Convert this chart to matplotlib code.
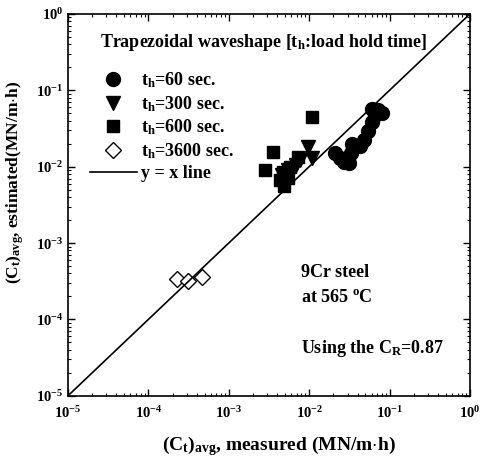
import matplotlib
matplotlib.use("Agg")
import matplotlib.pyplot as plt
import numpy as np
from matplotlib.ticker import LogLocator, FuncFormatter

plt.rcParams['font.family'] = ['Liberation Serif', 'DejaVu Serif']
plt.rcParams['font.weight'] = 'bold'
plt.rcParams['mathtext.fontset'] = 'custom'
plt.rcParams['mathtext.rm'] = 'Liberation Serif:bold'
plt.rcParams['mathtext.it'] = 'Liberation Serif:bold'
plt.rcParams['mathtext.bf'] = 'Liberation Serif:bold'

# data: (measured, estimated)
x60 = [0.0209, 0.0241, 0.0271, 0.0313, 0.0331, 0.0340, 0.0429, 0.0481, 0.0538, 0.0604, 0.0604, 0.0718, 0.0804, 0.0658]
y60 = [0.0152, 0.0130, 0.0116, 0.0112, 0.0152, 0.0199, 0.0187, 0.0224, 0.0294, 0.0386, 0.0571, 0.0553, 0.0506, 0.0477]
x300 = [0.00966, 0.00769, 0.0108, 0.00686, 0.00544, 0.00459]
y300 = [0.0182, 0.0123, 0.0130, 0.0106, 0.0091, 0.0078]
x600 = [0.00282, 0.00355, 0.00472, 0.00544, 0.00434, 0.00726, 0.00577, 0.0108, 0.00486]
y600 = [0.0091, 0.0156, 0.00855, 0.00713, 0.00672, 0.0134, 0.00994, 0.0449, 0.0056]
x3600 = [0.000227, 0.000311, 0.000464]
y3600 = [0.000340, 0.000320, 0.000361]
x_ticks = [1e-5, 1e-4, 1e-3, 1e-2, 1e-1, 1e0]

fig = plt.figure(figsize=(4.85, 4.63), dpi=100)
ax = fig.add_axes([0.140, 0.145, 0.829, 0.825])

ax.set_xscale('log')
ax.set_yscale('log')
ax.set_xlim(1e-5, 1)
ax.set_ylim(1e-5, 1)

line_x = np.array([1e-5, 1])
ax.plot(x60, y60, 'o', color='black', ms=10, label=r't$_{\rm h}$=60 sec.')
ax.plot(x300, y300, 'v', color='black', ms=10, label=r't$_{\rm h}$=300 sec.')
ax.plot(x600, y600, 's', color='black', ms=8.5, label=r't$_{\rm h}$=600 sec.')
ax.plot(x3600, y3600, 'D', mfc='white', mec='black', mew=1.0, ms=8, label=r't$_{\rm h}$=3600 sec.')
ax.plot(line_x, line_x, '-', color='black', lw=1.2, label='y = x line')

ax.text(0.08, 0.926, r'Trapezoidal waveshape [t$_{\rm h}$:load hold time]', transform=ax.transAxes,
        fontsize=13, fontweight='bold', va='center', ha='left')

leg = ax.legend(loc='upper left', bbox_to_anchor=(0.055, 0.852), frameon=False,
                fontsize=13, labelspacing=0.22,
                handlelength=2.6, handletextpad=0.25, borderaxespad=0.0, borderpad=0.0)

ax.text(0.58, 0.322, '9Cr steel', transform=ax.transAxes, fontsize=13, fontweight='bold', va='center')
ax.text(0.58, 0.257, r'at 565 $^{\rm o}$C', transform=ax.transAxes, fontsize=13, fontweight='bold', va='center')
ax.text(0.58, 0.123, r'Using the C$_{\rm R}$=0.87', transform=ax.transAxes, fontsize=13, fontweight='bold', va='center')

ax.set_xticks(x_ticks)
ax.set_yticks(x_ticks)
ax.xaxis.set_minor_locator(LogLocator(base=10, subs=np.arange(2, 10), numticks=20))
ax.yaxis.set_minor_locator(LogLocator(base=10, subs=np.arange(2, 10), numticks=20))

def fmt(v, pos):
    e = int(round(np.log10(v)))
    return r'10$^{%d}$' % e
ax.xaxis.set_major_formatter(FuncFormatter(fmt))
ax.yaxis.set_major_formatter(FuncFormatter(fmt))
ax.xaxis.set_minor_formatter(plt.NullFormatter())
ax.yaxis.set_minor_formatter(plt.NullFormatter())

ax.tick_params(which='both', direction='in', top=True, right=True, labelsize=10.5)
ax.tick_params(which='major', length=5, width=1)
ax.tick_params(which='minor', length=2.5, width=0.8)
ax.tick_params(axis='x', pad=7)
for s in ax.spines.values():
    s.set_linewidth(1.2)

ax.set_xlabel(r'(C$_{\rm t}$)$_{\rm avg}$, measured (MN/m$\cdot$h)', fontsize=14, fontweight='bold')
ax.xaxis.set_label_coords(0.525, -0.10)
ax.set_ylabel(r'(C$_{\rm t}$)$_{\rm avg}$, estimated(MN/m$\cdot$h)', fontsize=12.5, fontweight='bold')
ax.yaxis.set_label_coords(-0.105, 0.56)

fig.savefig('out.png', dpi=100)
